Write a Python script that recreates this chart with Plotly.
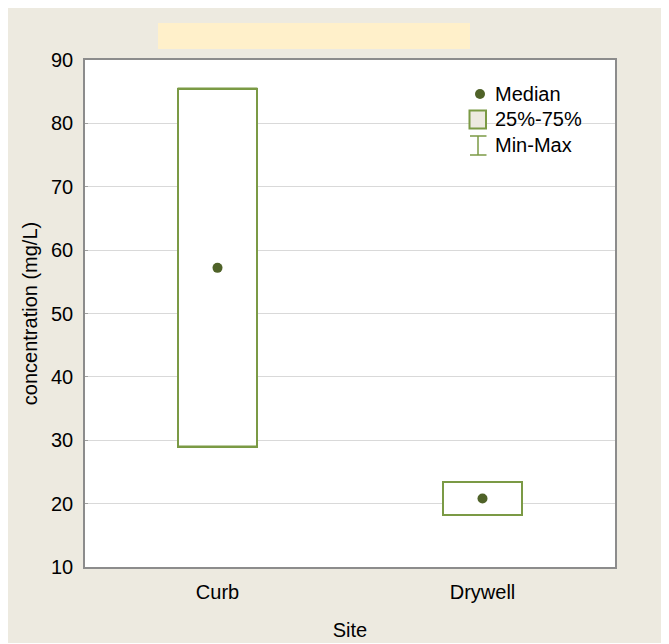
import plotly.graph_objects as go

# ---- data ----
sites = ["Curb", "Drywell"]
q1 = [29.0, 18.2]
q3 = [85.5, 23.4]
medians = [57.2, 20.8]
mins = [29.0, 18.2]
maxs = [85.5, 23.4]
y_ticks = [10, 20, 30, 40, 50, 60, 70, 80, 90]
legend_labels = ["Median", "25%-75%", "Min-Max"]

GREEN = "#7B9A45"
DARK = "#4F6228"
BEIGE = "#EDEAE0"
FONT = "Arial, Liberation Sans, sans-serif"
FS = 20

# page offset (body margin) and figure size
OX, OY = 8, 9
W, H = 661, 635
# plot area in window pixels
PL, PR, PT, PB = 85, 615, 61, 568
L, R, T, B = PL - OX, W - (PR - OX), PT - OY, H - (PB - OY)
PW, PH = PR - PL, PB - PT


def px(x):
    return (x - PL) / PW


def py(y):
    return (PB - y) / PH


fig = go.Figure()

# boxes (25%-75%)
fig.add_trace(go.Bar(
    x=sites, base=q1, y=[b - a for a, b in zip(q1, q3)], width=0.3,
    marker=dict(color="white", line=dict(color=GREEN, width=2)),
    showlegend=False, hoverinfo="skip"))

# min / max caps
fig.add_trace(go.Scatter(
    x=sites + sites, y=mins + maxs, mode="markers",
    marker=dict(symbol="line-ew", size=57, line=dict(color=GREEN, width=2)),
    showlegend=False, hoverinfo="skip"))

# medians
fig.add_trace(go.Scatter(
    x=sites, y=medians, mode="markers",
    marker=dict(symbol="circle", size=10, color=DARK),
    showlegend=False))

shapes = []
# title placeholder
shapes.append(dict(type="rect", xref="paper", yref="paper", layer="below",
                   x0=px(158), x1=px(470), y0=py(50), y1=py(24),
                   fillcolor="#FFF0CA", line=dict(width=0)))
# legend glyphs
shapes.append(dict(type="circle", xref="paper", yref="paper",
                   x0=px(475), x1=px(485), y0=py(100), y1=py(90),
                   fillcolor=DARK, line=dict(width=0)))
shapes.append(dict(type="rect", xref="paper", yref="paper",
                   x0=px(469.5), x1=px(486), y0=py(129.5), y1=py(111.5),
                   fillcolor=BEIGE, line=dict(color=GREEN, width=2)))
shapes.append(dict(type="line", xref="paper", yref="paper",
                   x0=px(478), x1=px(478), y0=py(156), y1=py(137),
                   line=dict(color=GREEN, width=1.5)))
for yy in (137, 156):
    shapes.append(dict(type="line", xref="paper", yref="paper",
                       x0=px(470), x1=px(486.5), y0=py(yy), y1=py(yy),
                       line=dict(color=GREEN, width=1.5)))

annotations = []
for lab, yy in zip(legend_labels, (95, 120, 146)):
    annotations.append(dict(text=lab, xref="paper", yref="paper",
                            x=px(493), y=py(yy), xanchor="left", yanchor="middle",
                            showarrow=False, font=dict(family=FONT, size=FS, color="black")))

fig.update_layout(
    width=W, height=H,
    margin=dict(l=L, r=R, t=T, b=B, autoexpand=False),
    paper_bgcolor=BEIGE, plot_bgcolor="white",
    font=dict(family=FONT, size=FS, color="black"),
    shapes=shapes, annotations=annotations,
    bargap=0, showlegend=False,
)
fig.update_xaxes(
    range=[-0.5, 1.5], showgrid=False, zeroline=False,
    showline=True, mirror=True, linecolor="#8C8C8C", linewidth=1.5,
    ticks="", ticklabelstandoff=6,
    title=dict(text="Site", standoff=21, font=dict(size=FS)),
)
fig.update_yaxes(
    range=[10, 90], tickvals=y_ticks, ticktext=[str(v) for v in y_ticks],
    showgrid=True, gridcolor="#D9D9D9", gridwidth=1, zeroline=False,
    showline=True, mirror=True, linecolor="#8C8C8C", linewidth=1.5,
    ticks="inside", ticklen=3, tickcolor="#A0A0A0",
    ticklabelstandoff=6,
    title=dict(text="concentration (mg/L)", standoff=8, font=dict(size=FS)),
)

fig.write_html("out.html")
